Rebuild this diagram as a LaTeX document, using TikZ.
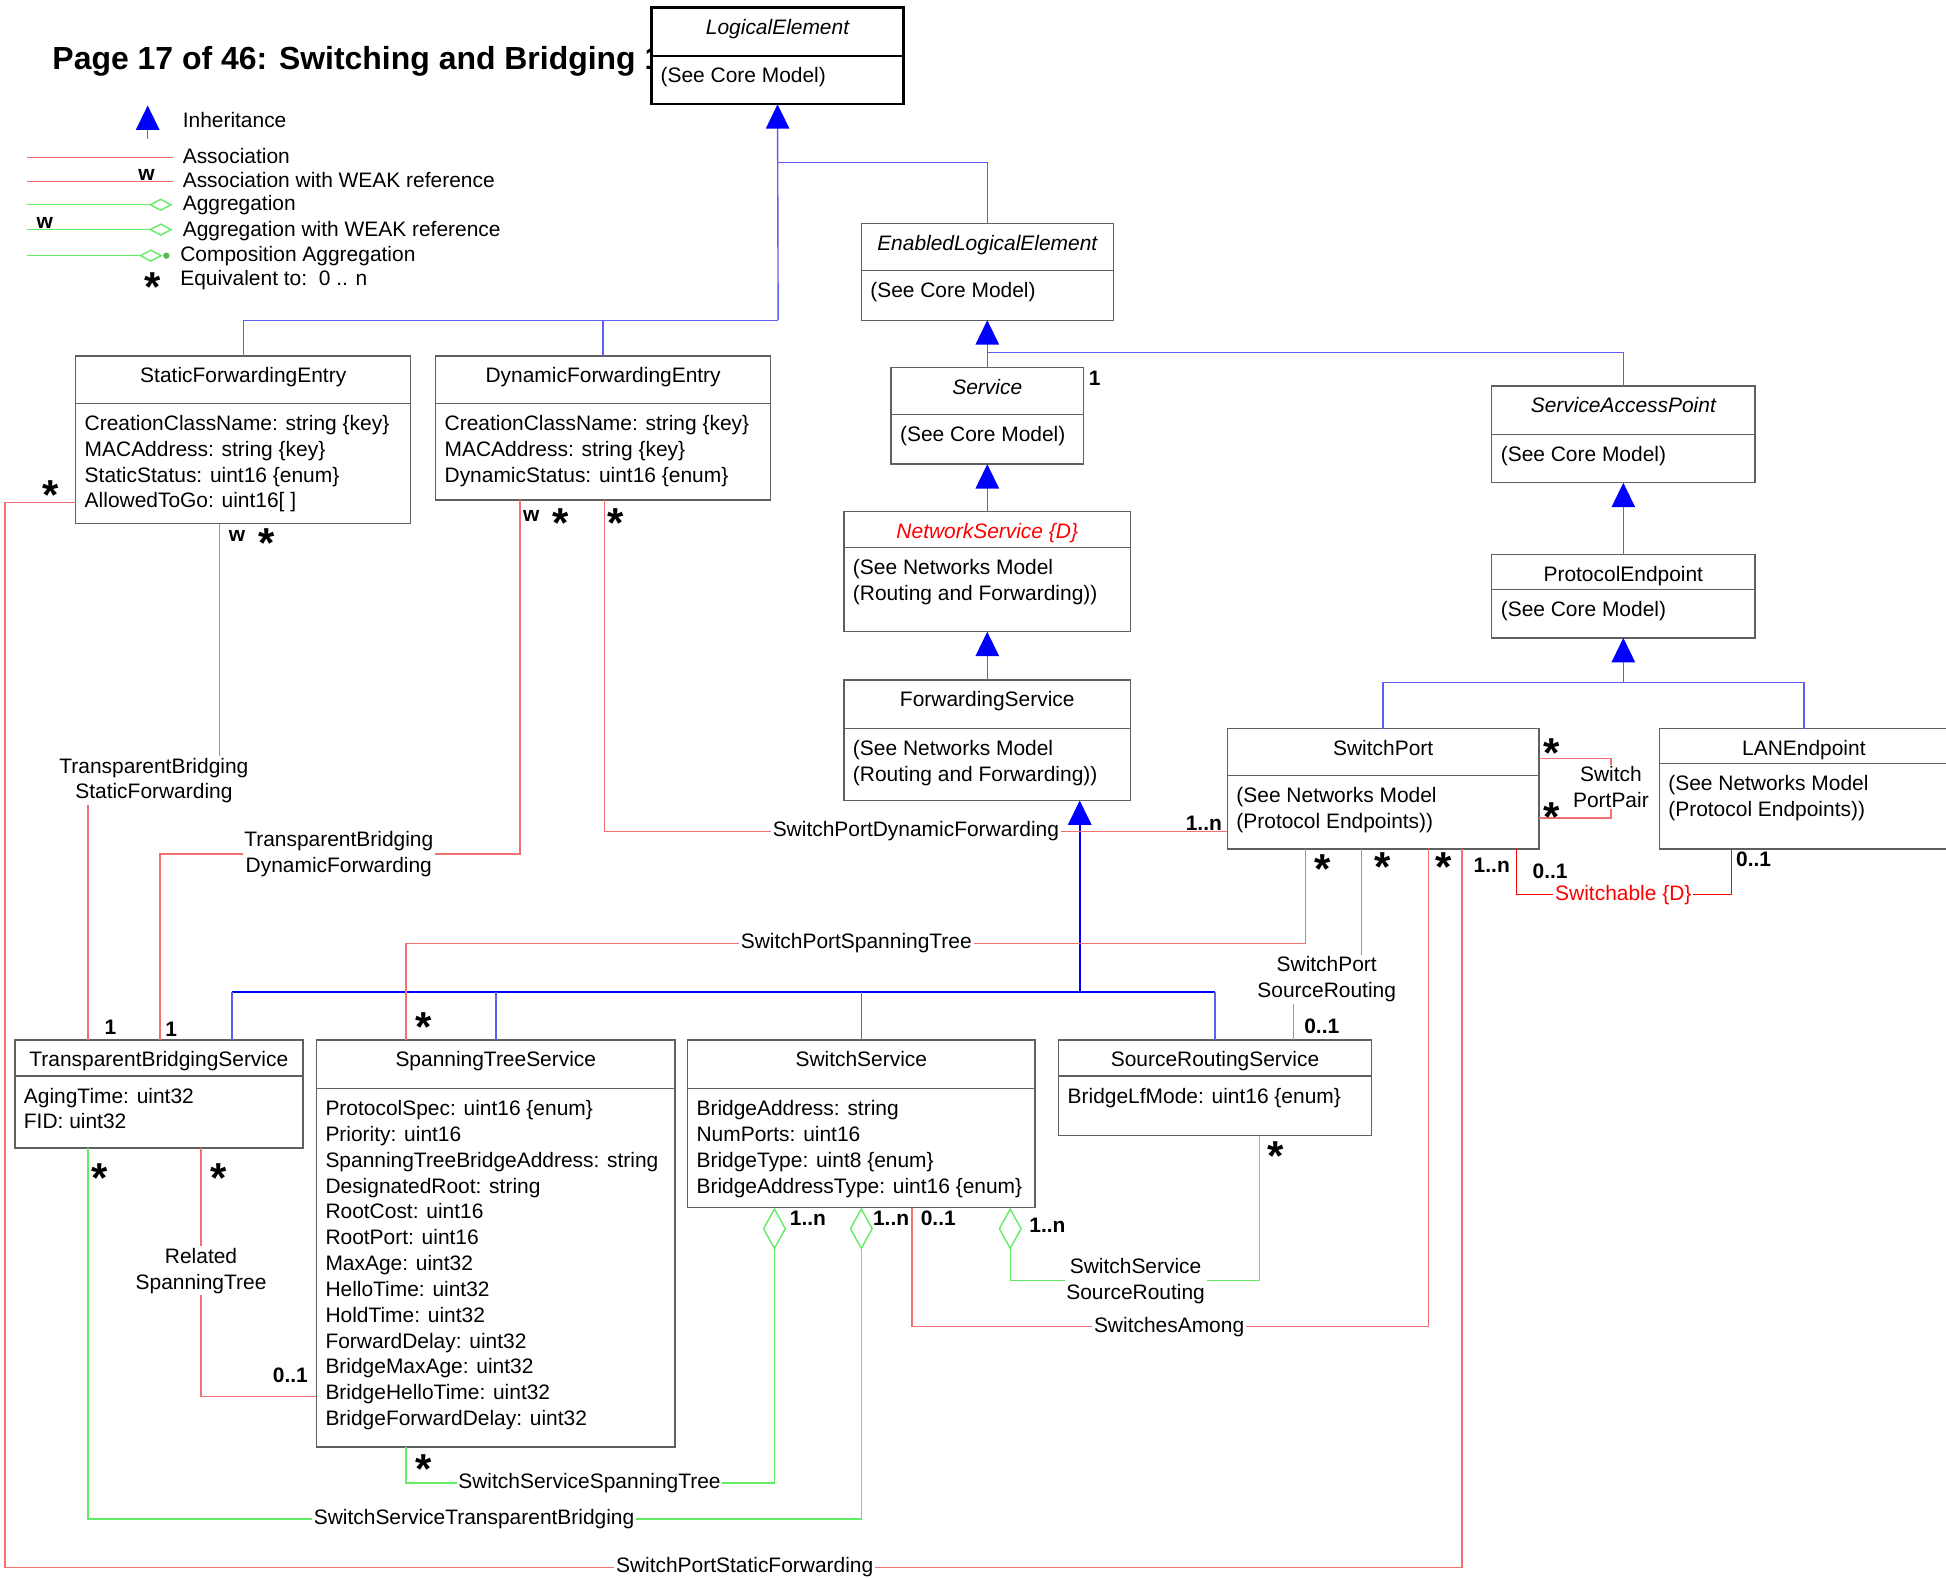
\documentclass[tikz,border=0pt]{standalone}
\usepackage{fontspec}
\setmainfont{Liberation Sans}
\usetikzlibrary{
  arrows.meta,   % Triangle / Diamond tips
  positioning    % relative placement
}

\definecolor{assocred}{RGB}{242,112,112}
\definecolor{aggrgreen}{RGB}{100,235,100}
\definecolor{inhline}{RGB}{95,95,245}
\definecolor{arrowblue}{RGB}{0,0,255}
\definecolor{boxgray}{RGB}{95,95,95}

\newcommand{\pxu}{0.025cm}
\newcommand{\umlfont}{\fontsize{12}{14.8}\selectfont}

% class box: [opts]{name}{x}{y}{width}{head h}{body h}{title}{attributes}
\newcommand{\umlclass}[9][]{%
  \pgfmathsetmacro{\headdp}{#6*0.7113-15.3}%
  \node[class head, minimum width=#5*\pxu, minimum height=#6*\pxu,
        text height=15.3pt, text depth=\headdp pt, #1] (#2) at (#3,#4) {#8};
  \node[class body, minimum width=#5*\pxu, minimum height=#7*\pxu, #1] (#2-b) at (#2.south west) {};
  \node[attr text] (#2-t) at ([xshift=7*\pxu, yshift=-7*\pxu]#2-b.north west) {\strut #9};
}

\tikzset{
  class head/.style={
    draw=boxgray, line width=0.8pt, fill=white,
    anchor=north west, outer sep=0pt, inner sep=0pt,
    font=\umlfont
  },
  class body/.style={
    draw=boxgray, line width=0.8pt, fill=white,
    anchor=north west, outer sep=0pt, inner sep=0pt
  },
  abstract/.style={font=\umlfont\itshape},
  attr text/.style={anchor=north west, inner sep=0pt, align=left, font=\umlfont},
  inherit/.style={
    draw=inhline, line width=0.8pt,
    arrows={Triangle[length=0.49cm, width=0.47cm, color=arrowblue]-}
  },
  inherit line/.style={draw=inhline, line width=0.8pt},
  trunk line/.style={draw=arrowblue, line width=1.1pt},
  assoc/.style={draw=assocred, line width=0.8pt},
  aggr/.style={
    draw=aggrgreen, line width=0.8pt,
    arrows={Diamond[open, length=0.85cm, width=0.47cm]-}
  },
  legend aggr/.style={
    draw=aggrgreen, line width=0.8pt,
    arrows={Diamond[open, length=0.475cm, width=0.25cm]-}
  },
  assoc label/.style={fill=white, inner sep=1pt, align=center, font=\umlfont},
  legend text/.style={anchor=west, inner sep=0pt, font=\umlfont},
  mult/.style={inner sep=0pt, font=\umlfont\bfseries},
  star/.style={inner sep=0pt, text height=17.5pt, text depth=-9.5pt, yshift=-3.5pt,
    font=\fontsize{24}{24}\selectfont\bfseries}
}

\begin{document}
\begin{tikzpicture}[x=\pxu, y=-\pxu]
  \fill[white] (0,0) rectangle (1568,1271);
  \useasboundingbox (0,0) rectangle (1568,1271);

  % --- title ---
  \node[anchor=west, inner sep=0pt, font=\fontsize{18.3}{18.3}\selectfont\bfseries] (title) at (42,49)
    {Page 17 of 46: Switching and Bridging 1};

  % --- legend ---
  \draw[inherit] (119,85) -- (119,112);
  \node[legend text] (lg-inh) at (147,97) {Inheritance};
  \draw[assoc] (22,127) -- (139,127);
  \node[legend text] (lg-as) at (147,126) {Association};
  \draw[assoc] (22,146) -- (139,146);
  \node[mult] (lg-w1) at (118,141) {w};
  \node[legend text] (lg-asw) at (147,145) {Association with WEAK reference};
  \draw[legend aggr] (139,165) -- (22,165);
  \node[legend text] (lg-ag) at (147,165) {Aggregation};
  \draw[legend aggr] (139,185) -- (22,185);
  \node[mult] (lg-w2) at (36,180) {w};
  \node[legend text] (lg-agw) at (147,186) {Aggregation with WEAK reference};
  \draw[legend aggr] (131,206) -- (22,206);
  \fill[aggrgreen!80!black] (134,206) circle (1.8pt);
  \node[legend text] (lg-co) at (145,206) {Composition Aggregation};
  \node[star] (lg-st) at (123,226) {*};
  \node[legend text] (lg-eq) at (145,226) {Equivalent to:\ \ 0 .. n};

  % --- classes ---
  \umlclass[abstract, draw=black, line width=1.3pt]{le}{525}{6}{203}{39}{39}{LogicalElement}{(See Core Model)}
  \umlclass[abstract]{ele}{694}{180}{203}{38}{40}{EnabledLogicalElement}{(See Core Model)}
  \umlclass[abstract]{svc}{718}{296}{155}{38}{40}{Service}{(See Core Model)}
  \umlclass[abstract, text=red]{ns}{680}{412}{231}{29}{68}{NetworkService \{D\}}{(See Networks Model\\(Routing and Forwarding))}
  \umlclass{fs}{680}{548}{231}{39}{58}{ForwardingService}{(See Networks Model\\(Routing and Forwarding))}
  \umlclass[abstract]{sap}{1202}{311}{212}{39}{39}{ServiceAccessPoint}{(See Core Model)}
  \umlclass{pe}{1202}{447}{212}{28}{39}{ProtocolEndpoint}{(See Core Model)}
  \umlclass{sp}{989}{587}{251}{38}{59}{SwitchPort}{(See Networks Model\\(Protocol Endpoints))}
  \umlclass{lan}{1337}{587}{233}{28}{69}{LANEndpoint}{(See Networks Model\\(Protocol Endpoints))}
  \umlclass{sfe}{61}{287}{270}{38}{97}{StaticForwardingEntry}{CreationClassName: string \{key\}\\MACAddress: string \{key\}\\StaticStatus: uint16 \{enum\}\\AllowedToGo: uint16[ ]}
  \umlclass{dfe}{351}{287}{270}{38}{78}{DynamicForwardingEntry}{CreationClassName: string \{key\}\\MACAddress: string \{key\}\\DynamicStatus: uint16 \{enum\}}
  \umlclass{tbs}{12}{838}{232}{29}{58}{TransparentBridgingService}{AgingTime: uint32\\FID: uint32}
  \umlclass{sts}{255}{838}{289}{39}{289}{SpanningTreeService}{ProtocolSpec: uint16 \{enum\}\\Priority: uint16\\SpanningTreeBridgeAddress: string\\DesignatedRoot: string\\RootCost: uint16\\RootPort: uint16\\MaxAge: uint32\\HelloTime: uint32\\HoldTime: uint32\\ForwardDelay: uint32\\BridgeMaxAge: uint32\\BridgeHelloTime: uint32\\BridgeForwardDelay: uint32}
  \umlclass{ss}{554}{838}{280}{39}{96}{SwitchService}{BridgeAddress: string\\NumPorts: uint16\\BridgeType: uint8 \{enum\}\\BridgeAddressType: uint16 \{enum\}}
  \umlclass{srs}{853}{838}{252}{29}{48}{SourceRoutingService}{BridgeLfMode: uint16 \{enum\}}

  % --- inheritance ---
  \draw[inherit] (le-b.south) -- (627,258);
  \draw[inherit line] (sfe.north) |- (627,258);
  \draw[inherit line] (dfe.north) -- (dfe.north |- 0,258);
  \draw[inherit line] (627,131) -| (ele.north);
  \draw[inherit] (ele-b.south) -- (svc.north);
  \draw[inherit line] (ele-b.south |- 0,284) -| (sap.north);
  \draw[inherit] (svc-b.south) -- (ns.north);
  \draw[inherit] (ns-b.south) -- (fs.north);
  \draw[inherit, trunk line] (fs-b.south -| 870,0) -- (870,799);
  \draw[trunk line] (187,799) -- (979,799);
  \draw[inherit line] (tbs.north -| 187,0) -- (187,799);
  \draw[inherit line] (sts.north) -- (sts.north |- 0,799);
  \draw[inherit line] (ss.north) -- (ss.north |- 0,799);
  \draw[inherit line] (srs.north) -- (srs.north |- 0,799);
  \draw[inherit] (sap-b.south) -- (pe.north);
  \draw[inherit] (pe-b.south) -- (1308,550);
  \draw[inherit line] (sp.north) |- (lan.north |- 0,550) -- (lan.north);

  % --- associations ---
  \draw[assoc] (sfe-b.west |- 0,405) -- (4,405) -- (4,1263) -- (1178,1263) -- (sp-b.south -| 1178,0);
  \draw[assoc] (sfe-b.south -| 177,0) -- (177,629) -- (71,629) -- (tbs.north -| 71,0);
  \draw[assoc] (dfe-b.south -| 419,0) -- (419,688) -- (129,688) -- (tbs.north -| 129,0);
  \draw[assoc] (dfe-b.south -| 487,0) -- (487,670) -- (sp-b.west |- 0,670);
  \draw[assoc] (sts.north -| 327,0) -- (327,760) -- (1052,760) -- (sp-b.south -| 1052,0);
  \draw[assoc] (sp-b.south -| 1097,0) -- (1097,789) -- (1042,789) -- (srs.north -| 1042,0);
  \draw[assoc] (ss-b.south -| 735,0) -- (735,1069) -- (1151,1069) -- (sp-b.south -| 1151,0);
  \draw[assoc, draw=red, line width=0.6pt] (sp-b.south -| 1222,0) -- (1222,721) -- (1395,721) -- (lan-b.south -| 1395,0);
  \draw[assoc] (sp.east |- 0,611) -- (1298,611) -- (1298,659) -- (sp-b.east |- 0,659);
  \draw[assoc] (tbs-b.south -| 162,0) -- (162,1125) -- (sts-b.west |- 0,1125);

  % --- aggregations ---
  \draw[aggr] (ss-b.south -| 624,0) -- (624,1195) -- (327,1195) -- (sts-b.south -| 327,0);
  \draw[aggr] (ss-b.south -| 694,0) -- (694,1224) -- (71,1224) -- (tbs-b.south -| 71,0);
  \draw[aggr] (ss-b.south -| 814,0) -- (814,1032) -- (1015,1032) -- (srs-b.south -| 1015,0);

  % --- connector labels ---
  \node[assoc label] (l-spsf) at (600,1263) {SwitchPortStaticForwarding};
  \node[assoc label] (l-tbsf) at (124,629) {TransparentBridging\\StaticForwarding};
  \node[assoc label] (l-tbdf) at (273,688) {TransparentBridging\\DynamicForwarding};
  \node[assoc label] (l-spdf) at (738,670) {SwitchPortDynamicForwarding};
  \node[assoc label] (l-spst) at (690,760) {SwitchPortSpanningTree};
  \node[assoc label] (l-spsr) at (1069,789) {SwitchPort\\SourceRouting};
  \node[assoc label] (l-swam) at (942,1069) {SwitchesAmong};
  \node[assoc label, text=red] (l-swab) at (1308,721) {Switchable \{D\}};
  \node[assoc label] (l-sppp) at (1298,634) {Switch\\PortPair};
  \node[assoc label] (l-rlst) at (162,1024) {Related\\SpanningTree};
  \node[assoc label] (l-ssst) at (475,1195) {SwitchServiceSpanningTree};
  \node[assoc label] (l-sstb) at (382,1224) {SwitchServiceTransparentBridging};
  \node[assoc label] (l-sssr) at (915,1032) {SwitchService\\SourceRouting};

  % --- multiplicities ---
  \node[star] (m1) at (41,393) {*};
  \node[mult] (m2) at (191,432) {w};
  \node[star] (m3) at (215,432) {*};
  \node[mult] (m4) at (428,416) {w};
  \node[star] (m5) at (452,416) {*};
  \node[star] (m6) at (496,416) {*};
  \node[mult] (m7) at (882,305) {1};
  \node[mult] (m8) at (89,828) {1};
  \node[mult] (m9) at (138,829) {1};
  \node[star] (m10) at (341,822) {*};
  \node[mult] (m11) at (970,663) {1..n};
  \node[star] (m12) at (1250,601) {*};
  \node[star] (m13) at (1250,653) {*};
  \node[star] (m14) at (1066,695) {*};
  \node[star] (m15) at (1114,693) {*};
  \node[star] (m16) at (1163,693) {*};
  \node[mult] (m17) at (1202,697) {1..n};
  \node[mult] (m18) at (1249,702) {0..1};
  \node[mult] (m19) at (1413,692) {0..1};
  \node[mult] (m20) at (1065,827) {0..1};
  \node[star] (m21) at (80,944) {*};
  \node[star] (m22) at (176,944) {*};
  \node[mult] (m23) at (234,1108) {0..1};
  \node[mult] (m24) at (651,982) {1..n};
  \node[mult] (m25) at (718,982) {1..n};
  \node[mult] (m26) at (756,982) {0..1};
  \node[mult] (m27) at (844,987) {1..n};
  \node[star] (m28) at (1028,926) {*};
  \node[star] (m29) at (341,1178) {*};
\end{tikzpicture}
\end{document}
